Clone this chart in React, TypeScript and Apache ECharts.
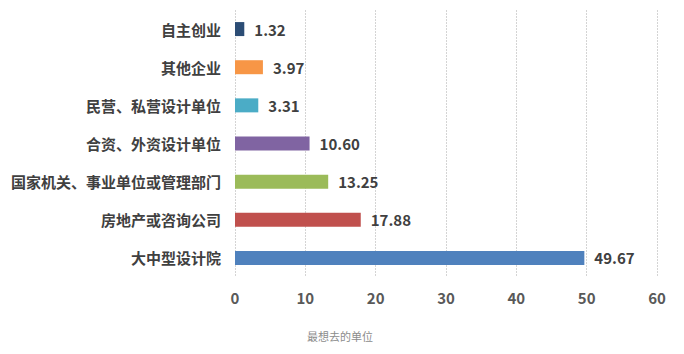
import React, { useEffect, useRef } from "react";
import * as echarts from "echarts";

const categories = ["大中型设计院", "房地产或咨询公司", "国家机关、事业单位或管理部门", "合资、外资设计单位", "民营、私营设计单位", "其他企业", "自主创业"];
const values = [49.67, 17.88, 13.25, 10.6, 3.31, 3.97, 1.32];
const colors = ["#4F81BD", "#C0504D", "#9BBB59", "#8064A2", "#4BACC6", "#F79646", "#2C4D75"];
const xTicks = [0, 10, 20, 30, 40, 50, 60];
const axisTitle = "最想去的单位";

export default function App() {
  const ref = useRef<HTMLDivElement>(null);
  useEffect(() => {
    if (!ref.current) return;
    const chart = echarts.init(ref.current, undefined, { renderer: "svg" });
    const font = "'Microsoft YaHei', 'Noto Sans CJK SC', sans-serif";
    chart.setOption({
      animation: false,
      grid: { left: 235, right: 27, top: 10, bottom: 77 },
      xAxis: {
        type: "value",
        min: xTicks[0],
        max: xTicks[xTicks.length - 1],
        interval: 10,
        axisLine: { show: false },
        axisTick: { show: false },
        axisLabel: { color: "#595959", fontSize: 15, fontWeight: "bold", fontFamily: font, margin: 13 },
        splitLine: { show: true, lineStyle: { color: "#d4d4d4", type: [2, 1], width: 1 } },
      },
      yAxis: {
        type: "category",
        data: categories,
        axisLine: { show: false },
        axisTick: { show: false },
        axisLabel: { color: "#404040", fontSize: 15, fontWeight: "bold", fontFamily: font, margin: 14 },
      },
      series: [
        {
          type: "bar",
          barWidth: 14,
          data: values.map((v, i) => ({ value: v, itemStyle: { color: colors[i] } })),
          label: {
            show: true,
            position: "right",
            distance: 10,
            formatter: (p: any) => Number(p.value).toFixed(2),
            color: "#404040",
            fontSize: 15,
            fontWeight: "bold",
            fontFamily: font,
          },
        },
      ],
      graphic: [
        {
          type: "text",
          left: 307,
          top: 330,
          style: { text: axisTitle, fill: "#8c8c8c", fontSize: 11, fontFamily: font },
        },
      ],
    });
    return () => chart.dispose();
  }, []);
  return <div ref={ref} style={{ width: 684, height: 354, position: "absolute", left: 0, top: 0 }} />;
}
